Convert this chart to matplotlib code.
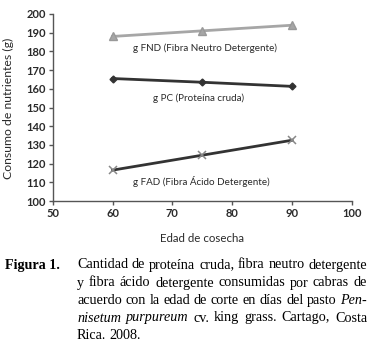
import matplotlib
matplotlib.use("Agg")
import matplotlib.pyplot as plt

edad = [60, 75, 90]
fnd = [188, 191, 194]
pc = [165.5, 163.5, 161.3]
fad = [116.5, 124.5, 132.5]

caption_lines = [
    [("Cantidad de proteína cruda, fibra neutro detergente", "normal")],
    [("y fibra ácido detergente consumidas por cabras de", "normal")],
    [("acuerdo con la edad de corte en días del pasto", "normal"), ("Pen-", "italic")],
    [("nisetum purpureum", "italic"), ("cv. king grass. Cartago, Costa", "normal")],
    [("Rica. 2008.", "normal")],
]

W, H = 373, 350
fig = plt.figure(figsize=(W / 100, H / 100), dpi=100)
ax = fig.add_axes([52.7 / W, 1 - 201 / H, (352 - 52.7) / W, (201 - 14) / H])

sans = "Lato"
dark = "#2a2a2a"
ax.plot(edad, fnd, color="#a6a6a6", lw=2, marker="^", ms=5.5, mfc="#a6a6a6", mec="#999999")
ax.plot(edad, pc, color="#333333", lw=2, marker="D", ms=3.5, mfc="#333333")
ax.plot(edad, fad, color="#333333", lw=2, marker="x", ms=6, mew=1.1, mec="#888888")

ax.text(75.4, 181.8, "g FND (Fibra Neutro Detergente)", ha="center", va="center",
        fontsize=7.1, family=sans, color=dark)
ax.text(74.4, 155, "g PC (Proteína cruda)", ha="center", va="center",
        fontsize=7.1, family=sans, color=dark)
ax.text(74.8, 110.2, "g FAD (Fibra Ácido Detergente)", ha="center", va="center",
        fontsize=7.1, family=sans, color=dark)

ax.set_xlim(50, 100)
ax.set_ylim(100, 200)
ax.set_xticks(range(50, 101, 10))
ax.set_yticks(range(100, 201, 10))
for s in ("top", "right"):
    ax.spines[s].set_visible(False)
for s in ("left", "bottom"):
    ax.spines[s].set_color("#555555")
    ax.spines[s].set_linewidth(1)
ax.tick_params(length=3, width=1, color="#555555", labelsize=8, labelcolor=dark, pad=2)
for lab in ax.get_xticklabels() + ax.get_yticklabels():
    lab.set_family(sans)
    lab.set_fontweight("bold")

fig.text(202 / W, 1 - 239 / H, "Edad de cosecha", ha="center", va="center",
         fontsize=8.3, family=sans, color=dark)
fig.text(8 / W, 1 - 108 / H, "Consumo de nutrientes (g)", ha="center", va="center",
         rotation=90, fontsize=8.8, family=sans, color=dark)

# caption, justified line by line
serif = "Liberation Serif"
cap_size = 10.2
fig.text(5 / W, 1 - 265 / H, "Figura 1.", ha="left", va="center",
         fontsize=cap_size, family=serif, fontweight="bold")
fig.canvas.draw()
renderer = fig.canvas.get_renderer()
x0, x1 = 77, 367
line_y = [265, 283, 300.5, 318, 335.5]
for i, parts in enumerate(caption_lines):
    words = []
    for txt, style in parts:
        for w in txt.split():
            words.append((w, style))
    arts = []
    for w, style in words:
        t = fig.text(0, 1 - line_y[i] / H, w, ha="left", va="center",
                     fontsize=cap_size, family=serif, style=style)
        arts.append(t)
    widths = [a.get_window_extent(renderer).width for a in arts]
    if i < len(caption_lines) - 1 and len(words) > 1:
        gap = (x1 - x0 - sum(widths)) / (len(words) - 1)
    else:
        gap = 3
    x = x0
    for a, wd in zip(arts, widths):
        a.set_x(x / W)
        x += wd + gap

fig.savefig("out.png", dpi=100)
